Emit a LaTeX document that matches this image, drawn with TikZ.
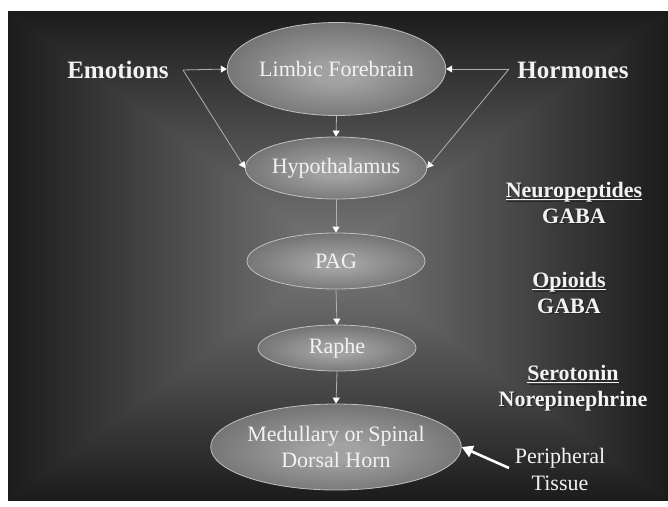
\documentclass[tikz,border=0pt]{standalone}
\usepackage{fontspec}
\setmainfont{Liberation Serif}
\usetikzlibrary{shapes.geometric,arrows.meta}
\definecolor{bgdark}{HTML}{1C1C1C}
\definecolor{bglight}{HTML}{7A7A7A}
\definecolor{ellin}{HTML}{A2A2A2}
\definecolor{ellout}{HTML}{404040}
\definecolor{txt}{HTML}{F2F2F2}
\definecolor{rim}{HTML}{C0C0C0}
\definecolor{link}{HTML}{B0B0B0}
\newcommand\myul[1]{\sbox0{#1}\rlap{\rule[-2.6pt]{\wd0}{1.1pt}}\usebox0}
\pgfdeclareradialshading{ellshade}{\pgfpoint{0bp}{-3bp}}{color(0bp)=(ellin); color(5bp)=(ellin); color(50bp)=(ellout)}
\tikzset{
  region/.style={ellipse, draw=rim, line width=0.8pt, shading=ellshade, inner sep=0pt,
    text=txt, font=\fontsize{22}{26}\selectfont, align=center},
  biglabel/.style={text=txt, font=\fontsize{25}{30}\selectfont\bfseries},
  sidelabel/.style={text=txt, font=\fontsize{22}{25.5}\selectfont\bfseries, align=center},
  shadowlabel/.style={text=black!85, font=\fontsize{22}{25.5}\selectfont\bfseries, align=center},
  plainlabel/.style={text=txt, font=\fontsize{22}{27}\selectfont, align=center},
  flow/.style={draw=link, line width=0.8pt, -{Triangle[width=7pt,length=6pt,fill=white,color=white]}},
  bigflow/.style={draw=white, line width=2.6pt, -{Triangle[width=12pt,length=11pt,fill=white,color=white]}}
}
\begin{document}
\begin{tikzpicture}[x=1pt,y=-1pt]
\useasboundingbox (0,0) rectangle (668,506);
\fill[white] (0,0) rectangle (668,506);
\foreach \i in {0,...,89} {
  \pgfmathsetmacro\f{\i/90}
  \pgfmathsetmacro\p{100*\f}
  \fill[bglight!\p!bgdark] ({338-330*(1-\f)},{256-245*(1-\f)}) rectangle ({338+330*(1-\f)},{256+245*(1-\f)});
}
% regions
\node[region, minimum width=200pt, minimum height=93pt] (limbic) at (336.5,69) {Limbic Forebrain};
\node[region, minimum width=170pt, minimum height=62pt] (hypo) at (336,168) {Hypothalamus};
\node[region, minimum width=178pt, minimum height=56pt] (pag) at (336,261) {PAG};
\node[region, minimum width=158pt, minimum height=46pt] (raphe) at (337,348) {Raphe};
\node[region, minimum width=225pt, minimum height=86pt] (med) at (336,447) {Medullary or Spinal\\Dorsal Horn};
% side labels
\node[biglabel] (emo) at (118,70) {Emotions};
\node[biglabel] (horm) at (573,70) {Hormones};
\coordinate (emoout) at (183,70);
\coordinate (hormout) at (509,69);
\node[shadowlabel] (neuro-s) at (575.5,204.5) {\myul{Neuropeptides}\\GABA};
\node[sidelabel] (neuro) at (574,203) {\myul{Neuropeptides}\\GABA};
\node[shadowlabel] (opi-s) at (570.5,294.5) {\myul{Opioids}\\GABA};
\node[sidelabel] (opi) at (569,293) {\myul{Opioids}\\GABA};
\node[shadowlabel] (sero-s) at (574.5,389.5) {\myul{Serotonin}\\Norepinephrine};
\node[sidelabel] (sero) at (573,388) {\myul{Serotonin}\\Norepinephrine};
\node[plainlabel] (per) at (560,469) {Peripheral\\Tissue};
\coordinate (perout) at (509,468);
% connectors
\draw[flow] (emoout) -- (limbic.west);
\draw[flow] (emoout) -- (hypo.west);
\draw[flow] (hormout) -- (limbic.east);
\draw[flow] (hormout) -- (hypo.east);
\draw[flow] (limbic.south) -- (hypo.north);
\draw[flow] (hypo.south) -- (pag.north);
\draw[flow] (pag.south) -- (raphe.north);
\draw[flow] (raphe.south) -- (med.north);
\draw[bigflow] (perout) -- (med.east);
\end{tikzpicture}
\end{document}
